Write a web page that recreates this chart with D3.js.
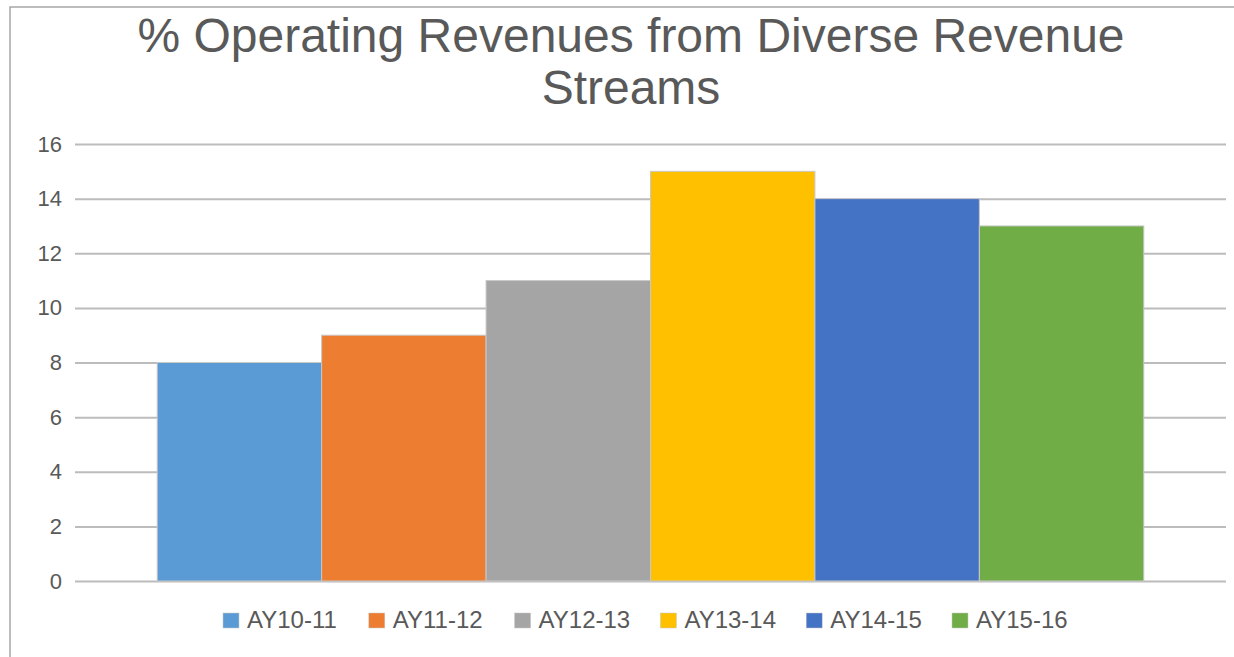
<!DOCTYPE html>
<html>
<head>
<meta charset="utf-8">
<script src="https://cdn.jsdelivr.net/npm/d3@7"></script>
<style>
	body { margin: 0; background: #fff; }
	text { font-family: "Liberation Sans", Arial, sans-serif; }
</style>
</head>
<body>
<svg id="chart" width="1234" height="657"></svg>
<script>
'use strict'

var titleLines = ['% Operating Revenues from Diverse Revenue', 'Streams'];
var years = ['AY10-11', 'AY11-12', 'AY12-13', 'AY13-14', 'AY14-15', 'AY15-16'];
var values = [8, 9, 11, 15, 14, 13];
var colors = ['#5b9bd5', '#ed7d31', '#a5a5a5', '#ffc000', '#4472c4', '#70ad47'];
var yTicks = [0, 2, 4, 6, 8, 10, 12, 14, 16];

function drawChart(){
	var svg = d3.select('#chart');

	// frame of the chart area (only top and left show in the picture)
	svg.append('path')
		.attr('d', 'M10,657 V7 H1234')
		.attr('fill', 'none')
		.attr('stroke', '#a6a6a6')
		.attr('stroke-width', 1.5);

	svg.selectAll('.title')
		.data(titleLines)
		.enter().append('text')
		.attr('class', 'title')
		.attr('x', 631)
		.attr('y', function(d, i){ return 52 + i*52; })
		.attr('text-anchor', 'middle')
		.attr('font-size', 48)
		.attr('fill', '#595959')
		.text(function(d){ return d; });

	var x = d3.scaleBand()
		.domain(years)
		.range([75, 1226])
		.paddingInner(0)
		.paddingOuter(0.5);

	var y = d3.scaleLinear()
		.domain([0, 16])
		.range([581, 144]);

	var yAxis = d3.axisLeft(y)
		.tickValues(yTicks)
		.tickSize(-(1226 - 75))
		.tickPadding(13);

	var g = svg.append('g')
		.attr('transform', 'translate(75,0)')
		.call(yAxis);

	g.select('.domain').remove();
	g.selectAll('.tick line')
		.attr('stroke', '#bcbcbc')
		.attr('stroke-width', 2);
	g.selectAll('.tick text')
		.attr('fill', '#595959')
		.attr('font-size', 22)
		.attr('font-family', '"Liberation Sans", Arial, sans-serif');

	svg.selectAll('.bar')
		.data(values)
		.enter().append('rect')
		.attr('class', 'bar')
		.attr('x', function(d, i){ return x(years[i]); })
		.attr('y', function(d){ return y(d); })
		.attr('width', x.bandwidth())
		.attr('height', function(d){ return y(0) - y(d); })
		.attr('fill', function(d, i){ return colors[i]; })
		.attr('stroke', '#c8c8c8')
		.attr('stroke-width', 1);

	var legend = svg.selectAll('.legend')
		.data(years)
		.enter().append('g')
		.attr('class', 'legend')
		.attr('transform', function(d, i){ return 'translate(' + (223 + i*145.8) + ',613)'; });

	legend.append('rect')
		.attr('width', 16)
		.attr('height', 15)
		.attr('fill', function(d, i){ return colors[i]; })
		.attr('stroke', '#c8c8c8')
		.attr('stroke-width', 0.5);

	legend.append('text')
		.attr('x', 24)
		.attr('y', 15)
		.attr('font-size', 24)
		.attr('fill', '#595959')
		.text(function(d){ return d; });
}

drawChart();
</script>
</body>
</html>
